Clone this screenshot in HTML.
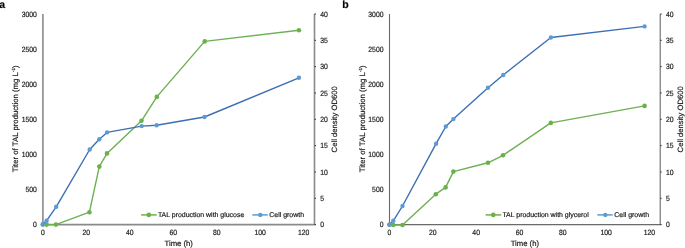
<!DOCTYPE html>
<html><head><meta charset="utf-8"><style>
html,body{margin:0;padding:0;background:#fff;width:685px;height:248px;overflow:hidden}
svg{display:block;will-change:transform}
text{font-family:"Liberation Sans", sans-serif;fill:#161616;text-rendering:geometricPrecision;stroke:#161616;stroke-width:0.18px}
</style></head><body>
<svg width="685" height="248" viewBox="0 0 685 248">
<rect width="685" height="248" fill="#fff"/>
<text x="-0.7" y="7.6" font-size="10.5" font-weight="bold" style="fill:#000">a</text>
<text x="342.3" y="7.6" font-size="10.5" font-weight="bold" style="fill:#000">b</text>
<path d="M42.9 14.0V224.6H314.5V14.0" fill="none" stroke="#8a8a8a" stroke-width="1.6"/>
<path d="M314.5 224.60h1.5" stroke="#333" stroke-width="1"/>
<text x="320.20" y="227.30" font-size="7.6" textLength="3.80" lengthAdjust="spacingAndGlyphs">0</text>
<path d="M314.5 198.28h1.5" stroke="#333" stroke-width="1"/>
<text x="320.20" y="200.97" font-size="7.6" textLength="3.80" lengthAdjust="spacingAndGlyphs">5</text>
<path d="M314.5 171.95h1.5" stroke="#333" stroke-width="1"/>
<text x="320.20" y="174.65" font-size="7.6" textLength="7.60" lengthAdjust="spacingAndGlyphs">10</text>
<path d="M314.5 145.62h1.5" stroke="#333" stroke-width="1"/>
<text x="320.20" y="148.32" font-size="7.6" textLength="7.60" lengthAdjust="spacingAndGlyphs">15</text>
<path d="M314.5 119.30h1.5" stroke="#333" stroke-width="1"/>
<text x="320.20" y="122.00" font-size="7.6" textLength="7.60" lengthAdjust="spacingAndGlyphs">20</text>
<path d="M314.5 92.97h1.5" stroke="#333" stroke-width="1"/>
<text x="320.20" y="95.67" font-size="7.6" textLength="7.60" lengthAdjust="spacingAndGlyphs">25</text>
<path d="M314.5 66.65h1.5" stroke="#333" stroke-width="1"/>
<text x="320.20" y="69.35" font-size="7.6" textLength="7.60" lengthAdjust="spacingAndGlyphs">30</text>
<path d="M314.5 40.32h1.5" stroke="#333" stroke-width="1"/>
<text x="320.20" y="43.02" font-size="7.6" textLength="7.60" lengthAdjust="spacingAndGlyphs">35</text>
<path d="M314.5 14.00h1.5" stroke="#333" stroke-width="1"/>
<text x="320.20" y="16.70" font-size="7.6" textLength="7.60" lengthAdjust="spacingAndGlyphs">40</text>
<text x="36.90" y="227.30" font-size="7.6" text-anchor="end" textLength="3.80" lengthAdjust="spacingAndGlyphs">0</text>
<text x="36.90" y="192.20" font-size="7.6" text-anchor="end" textLength="11.40" lengthAdjust="spacingAndGlyphs">500</text>
<text x="36.90" y="157.10" font-size="7.6" text-anchor="end" textLength="15.20" lengthAdjust="spacingAndGlyphs">1000</text>
<text x="36.90" y="122.00" font-size="7.6" text-anchor="end" textLength="15.20" lengthAdjust="spacingAndGlyphs">1500</text>
<text x="36.90" y="86.90" font-size="7.6" text-anchor="end" textLength="15.20" lengthAdjust="spacingAndGlyphs">2000</text>
<text x="36.90" y="51.80" font-size="7.6" text-anchor="end" textLength="15.20" lengthAdjust="spacingAndGlyphs">2500</text>
<text x="36.90" y="16.70" font-size="7.6" text-anchor="end" textLength="15.20" lengthAdjust="spacingAndGlyphs">3000</text>
<text x="42.90" y="235.40" font-size="7.6" text-anchor="middle" textLength="3.80" lengthAdjust="spacingAndGlyphs">0</text>
<text x="86.35" y="235.40" font-size="7.6" text-anchor="middle" textLength="7.60" lengthAdjust="spacingAndGlyphs">20</text>
<text x="129.80" y="235.40" font-size="7.6" text-anchor="middle" textLength="7.60" lengthAdjust="spacingAndGlyphs">40</text>
<text x="173.25" y="235.40" font-size="7.6" text-anchor="middle" textLength="7.60" lengthAdjust="spacingAndGlyphs">60</text>
<text x="216.70" y="235.40" font-size="7.6" text-anchor="middle" textLength="7.60" lengthAdjust="spacingAndGlyphs">80</text>
<text x="260.15" y="235.40" font-size="7.6" text-anchor="middle" textLength="11.40" lengthAdjust="spacingAndGlyphs">100</text>
<text x="303.60" y="235.40" font-size="7.6" text-anchor="middle" textLength="11.40" lengthAdjust="spacingAndGlyphs">120</text>
<polyline points="42.8,224.6 46.6,224.6 55.9,224.6 89.4,212.2 99.3,166.6 107,153.4 141.5,120.8 156.8,96.9 204.7,41.4 298.9,30.2" fill="none" stroke="#6cb054" stroke-width="1.4" stroke-linejoin="round"/>
<circle cx="42.8" cy="224.6" r="2.3" fill="#6cb04a"/>
<circle cx="46.6" cy="224.6" r="2.3" fill="#6cb04a"/>
<circle cx="55.9" cy="224.6" r="2.3" fill="#6cb04a"/>
<circle cx="89.4" cy="212.2" r="2.3" fill="#6cb04a"/>
<circle cx="99.3" cy="166.6" r="2.3" fill="#6cb04a"/>
<circle cx="107" cy="153.4" r="2.3" fill="#6cb04a"/>
<circle cx="141.5" cy="120.8" r="2.3" fill="#6cb04a"/>
<circle cx="156.8" cy="96.9" r="2.3" fill="#6cb04a"/>
<circle cx="204.7" cy="41.4" r="2.3" fill="#6cb04a"/>
<circle cx="298.9" cy="30.2" r="2.3" fill="#6cb04a"/>
<polyline points="42.8,224.3 46.6,220.7 56.2,206.8 89.7,149.5 99.3,139.3 107.1,132.4 141.7,126.1 156.6,125.2 204.5,117 298.9,77.8" fill="none" stroke="#3d6fb3" stroke-width="1.4" stroke-linejoin="round"/>
<circle cx="42.8" cy="224.3" r="2.2" fill="#5b9bd5"/>
<circle cx="46.6" cy="220.7" r="2.2" fill="#5b9bd5"/>
<circle cx="56.2" cy="206.8" r="2.2" fill="#5b9bd5"/>
<circle cx="89.7" cy="149.5" r="2.2" fill="#5b9bd5"/>
<circle cx="99.3" cy="139.3" r="2.2" fill="#5b9bd5"/>
<circle cx="107.1" cy="132.4" r="2.2" fill="#5b9bd5"/>
<circle cx="141.7" cy="126.1" r="2.2" fill="#5b9bd5"/>
<circle cx="156.6" cy="125.2" r="2.2" fill="#5b9bd5"/>
<circle cx="204.5" cy="117" r="2.2" fill="#5b9bd5"/>
<circle cx="298.9" cy="77.8" r="2.2" fill="#5b9bd5"/>
<path d="M141.1 214.9h15.6" stroke="#6cb04a" stroke-width="1.5"/><circle cx="148.79999999999998" cy="214.9" r="2.3" fill="#6cb04a"/>
<text x="157.9" y="217.3" font-size="6.95">TAL production with glucose</text>
<path d="M252.3 214.9h15.4" stroke="#5b9bd5" stroke-width="1.5"/><circle cx="260.3" cy="214.9" r="2.2" fill="#5b9bd5"/>
<text x="269.3" y="217.3" font-size="6.95">Cell growth</text>
<text x="178.70" y="246.3" font-size="7.7" text-anchor="middle">Time (h)</text>
<text transform="translate(18.40 118.80) rotate(-90)" font-size="7.8" text-anchor="middle">Titer of TAL production (mg L<tspan font-size="4.6" dy="-3.1">-1</tspan><tspan dy="3.1">)</tspan></text>
<text transform="translate(336.80 119.30) rotate(-90)" font-size="7.7" text-anchor="middle">Cell density OD600</text>
<path d="M389.5 14.0V224.6H660.2V14.0" fill="none" stroke="#6a6a6a" stroke-width="1.1"/>
<path d="M660.2 224.60h1.5" stroke="#333" stroke-width="1"/>
<text x="665.90" y="227.30" font-size="7.6" textLength="3.80" lengthAdjust="spacingAndGlyphs">0</text>
<path d="M660.2 198.28h1.5" stroke="#333" stroke-width="1"/>
<text x="665.90" y="200.97" font-size="7.6" textLength="3.80" lengthAdjust="spacingAndGlyphs">5</text>
<path d="M660.2 171.95h1.5" stroke="#333" stroke-width="1"/>
<text x="665.90" y="174.65" font-size="7.6" textLength="7.60" lengthAdjust="spacingAndGlyphs">10</text>
<path d="M660.2 145.62h1.5" stroke="#333" stroke-width="1"/>
<text x="665.90" y="148.32" font-size="7.6" textLength="7.60" lengthAdjust="spacingAndGlyphs">15</text>
<path d="M660.2 119.30h1.5" stroke="#333" stroke-width="1"/>
<text x="665.90" y="122.00" font-size="7.6" textLength="7.60" lengthAdjust="spacingAndGlyphs">20</text>
<path d="M660.2 92.97h1.5" stroke="#333" stroke-width="1"/>
<text x="665.90" y="95.67" font-size="7.6" textLength="7.60" lengthAdjust="spacingAndGlyphs">25</text>
<path d="M660.2 66.65h1.5" stroke="#333" stroke-width="1"/>
<text x="665.90" y="69.35" font-size="7.6" textLength="7.60" lengthAdjust="spacingAndGlyphs">30</text>
<path d="M660.2 40.32h1.5" stroke="#333" stroke-width="1"/>
<text x="665.90" y="43.02" font-size="7.6" textLength="7.60" lengthAdjust="spacingAndGlyphs">35</text>
<path d="M660.2 14.00h1.5" stroke="#333" stroke-width="1"/>
<text x="665.90" y="16.70" font-size="7.6" textLength="7.60" lengthAdjust="spacingAndGlyphs">40</text>
<text x="383.50" y="227.30" font-size="7.6" text-anchor="end" textLength="3.80" lengthAdjust="spacingAndGlyphs">0</text>
<text x="383.50" y="192.20" font-size="7.6" text-anchor="end" textLength="11.40" lengthAdjust="spacingAndGlyphs">500</text>
<text x="383.50" y="157.10" font-size="7.6" text-anchor="end" textLength="15.20" lengthAdjust="spacingAndGlyphs">1000</text>
<text x="383.50" y="122.00" font-size="7.6" text-anchor="end" textLength="15.20" lengthAdjust="spacingAndGlyphs">1500</text>
<text x="383.50" y="86.90" font-size="7.6" text-anchor="end" textLength="15.20" lengthAdjust="spacingAndGlyphs">2000</text>
<text x="383.50" y="51.80" font-size="7.6" text-anchor="end" textLength="15.20" lengthAdjust="spacingAndGlyphs">2500</text>
<text x="383.50" y="16.70" font-size="7.6" text-anchor="end" textLength="15.20" lengthAdjust="spacingAndGlyphs">3000</text>
<text x="389.50" y="235.40" font-size="7.6" text-anchor="middle" textLength="3.80" lengthAdjust="spacingAndGlyphs">0</text>
<text x="432.82" y="235.40" font-size="7.6" text-anchor="middle" textLength="7.60" lengthAdjust="spacingAndGlyphs">20</text>
<text x="476.14" y="235.40" font-size="7.6" text-anchor="middle" textLength="7.60" lengthAdjust="spacingAndGlyphs">40</text>
<text x="519.46" y="235.40" font-size="7.6" text-anchor="middle" textLength="7.60" lengthAdjust="spacingAndGlyphs">60</text>
<text x="562.78" y="235.40" font-size="7.6" text-anchor="middle" textLength="7.60" lengthAdjust="spacingAndGlyphs">80</text>
<text x="606.10" y="235.40" font-size="7.6" text-anchor="middle" textLength="11.40" lengthAdjust="spacingAndGlyphs">100</text>
<text x="649.42" y="235.40" font-size="7.6" text-anchor="middle" textLength="11.40" lengthAdjust="spacingAndGlyphs">120</text>
<polyline points="389.4,224.8 393.3,225 402.5,225 435.8,194.2 445.6,187.4 453.4,171.6 488,162.8 503,155.3 550.8,122.9 644.6,105.9" fill="none" stroke="#6cb054" stroke-width="1.4" stroke-linejoin="round"/>
<circle cx="389.4" cy="224.8" r="2.3" fill="#6cb04a"/>
<circle cx="393.3" cy="225" r="2.3" fill="#6cb04a"/>
<circle cx="402.5" cy="225" r="2.3" fill="#6cb04a"/>
<circle cx="435.8" cy="194.2" r="2.3" fill="#6cb04a"/>
<circle cx="445.6" cy="187.4" r="2.3" fill="#6cb04a"/>
<circle cx="453.4" cy="171.6" r="2.3" fill="#6cb04a"/>
<circle cx="488" cy="162.8" r="2.3" fill="#6cb04a"/>
<circle cx="503" cy="155.3" r="2.3" fill="#6cb04a"/>
<circle cx="550.8" cy="122.9" r="2.3" fill="#6cb04a"/>
<circle cx="644.6" cy="105.9" r="2.3" fill="#6cb04a"/>
<polyline points="389.4,224.6 393.3,220.8 402.5,206 436.1,143.7 445.8,126.5 453.4,119.1 488,87.7 503.2,75 550.9,37.5 644.6,26.4" fill="none" stroke="#3d6fb3" stroke-width="1.4" stroke-linejoin="round"/>
<circle cx="389.4" cy="224.6" r="2.2" fill="#5b9bd5"/>
<circle cx="393.3" cy="220.8" r="2.2" fill="#5b9bd5"/>
<circle cx="402.5" cy="206" r="2.2" fill="#5b9bd5"/>
<circle cx="436.1" cy="143.7" r="2.2" fill="#5b9bd5"/>
<circle cx="445.8" cy="126.5" r="2.2" fill="#5b9bd5"/>
<circle cx="453.4" cy="119.1" r="2.2" fill="#5b9bd5"/>
<circle cx="488" cy="87.7" r="2.2" fill="#5b9bd5"/>
<circle cx="503.2" cy="75" r="2.2" fill="#5b9bd5"/>
<circle cx="550.9" cy="37.5" r="2.2" fill="#5b9bd5"/>
<circle cx="644.6" cy="26.4" r="2.2" fill="#5b9bd5"/>
<path d="M485.6 214.9h15.6" stroke="#6cb04a" stroke-width="1.5"/><circle cx="493.3" cy="214.9" r="2.3" fill="#6cb04a"/>
<text x="502.40000000000003" y="217.3" font-size="6.95">TAL production with glycerol</text>
<path d="M597.3 214.9h15.4" stroke="#5b9bd5" stroke-width="1.5"/><circle cx="605.3" cy="214.9" r="2.2" fill="#5b9bd5"/>
<text x="614.3" y="217.3" font-size="6.95">Cell growth</text>
<text x="524.85" y="246.3" font-size="7.7" text-anchor="middle">Time (h)</text>
<text transform="translate(365.00 118.80) rotate(-90)" font-size="7.8" text-anchor="middle">Titer of TAL production (mg L<tspan font-size="4.6" dy="-3.1">-1</tspan><tspan dy="3.1">)</tspan></text>
<text transform="translate(682.50 119.30) rotate(-90)" font-size="7.7" text-anchor="middle">Cell density OD600</text>
</svg>
</body></html>
